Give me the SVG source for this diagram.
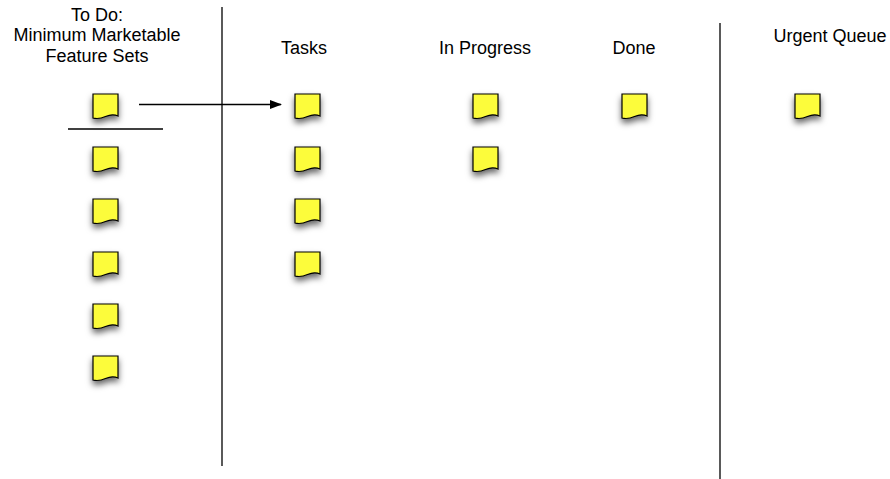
<svg xmlns="http://www.w3.org/2000/svg" width="890" height="479" viewBox="0 0 890 479">
<style>
  .lbl { font-family: "Liberation Sans", Arial, Helvetica, sans-serif; font-size: 18px; fill: #000; text-anchor: middle; }
  .note { fill: #fcfc3a; stroke: #000; stroke-width: 1.2; filter: url(#sh); }
  .ln { stroke: #000; stroke-width: 1.3; fill: none; }
</style>
<defs>
  <filter id="sh" x="-60%" y="-60%" width="220%" height="240%">
    <feDropShadow dx="0" dy="4" stdDeviation="3.2" flood-color="#000" flood-opacity="0.6"/>
  </filter>
  <path id="n" d="M0,0 H25 V22 C21,20 17,20.5 12.5,22.5 C8,24.5 4,25 0,24 Z"/>
  <marker id="ah" markerWidth="12" markerHeight="9" refX="11" refY="4.5" orient="auto" markerUnits="userSpaceOnUse">
    <path d="M0,0 L12,4.5 L0,9 Z" fill="#000"/>
  </marker>
</defs>
<rect width="890" height="479" fill="#fff"/>

<g id="labels">
  <text class="lbl" x="97" y="21">To Do:</text>
  <text class="lbl" x="97" y="41">Minimum Marketable</text>
  <text class="lbl" x="97" y="62">Feature Sets</text>
  <text class="lbl" x="304" y="54">Tasks</text>
  <text class="lbl" x="485" y="54">In Progress</text>
  <text class="lbl" x="634" y="54">Done</text>
  <text class="lbl" x="830" y="42">Urgent Queue</text>
</g>

<g id="connectors">
  <line class="ln" x1="222" y1="7" x2="222" y2="466"/>
  <line class="ln" x1="720" y1="23" x2="720" y2="479"/>
  <line class="ln" x1="68" y1="129" x2="163" y2="129"/>
  <line class="ln" x1="139" y1="104.5" x2="281" y2="104.5" marker-end="url(#ah)"/>
</g>

<g id="todo-1"><use href="#n" class="note" x="93" y="94"/></g>
<g id="todo-2"><use href="#n" class="note" x="93" y="147"/></g>
<g id="todo-3"><use href="#n" class="note" x="93" y="199"/></g>
<g id="todo-4"><use href="#n" class="note" x="93" y="252"/></g>
<g id="todo-5"><use href="#n" class="note" x="93" y="304"/></g>
<g id="todo-6"><use href="#n" class="note" x="93" y="356"/></g>

<g id="task-1"><use href="#n" class="note" x="295" y="94"/></g>
<g id="task-2"><use href="#n" class="note" x="295" y="147"/></g>
<g id="task-3"><use href="#n" class="note" x="295" y="199"/></g>
<g id="task-4"><use href="#n" class="note" x="295" y="252"/></g>

<g id="progress-1"><use href="#n" class="note" x="473" y="94"/></g>
<g id="progress-2"><use href="#n" class="note" x="473" y="147"/></g>

<g id="done-1"><use href="#n" class="note" x="622" y="94"/></g>

<g id="urgent-1"><use href="#n" class="note" x="795" y="94"/></g>
</svg>
